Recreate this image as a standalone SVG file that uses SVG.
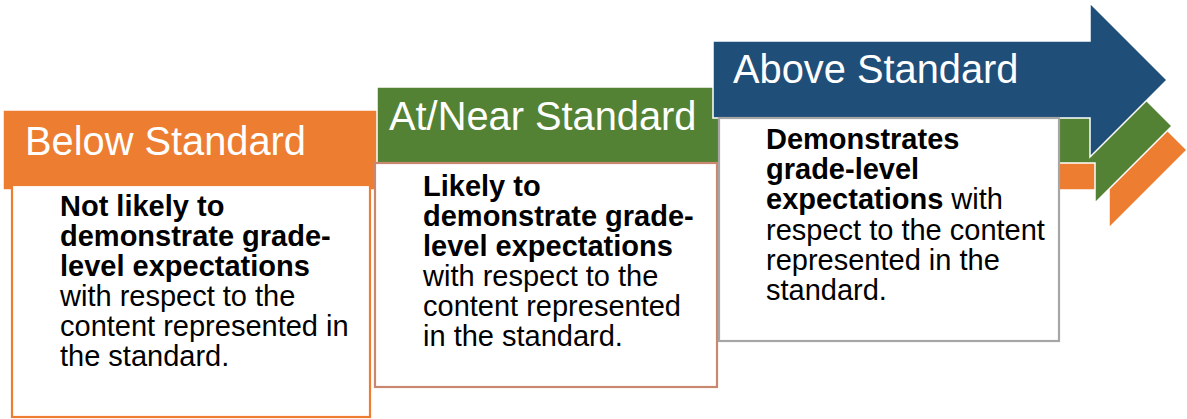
<svg xmlns="http://www.w3.org/2000/svg" width="1187" height="419" viewBox="0 0 1187 419">
<style>
.arrow{stroke:#FFFFFF;stroke-width:1.5;stroke-linejoin:miter}
.head{font-family:"Liberation Sans",Arial,sans-serif;font-size:39.8px;fill:#FFFFFF}
.body{font-family:"Liberation Sans",Arial,sans-serif;font-size:29px;fill:#000000}
.b{font-weight:bold}
.box{fill:#FFFFFF;stroke-width:2.2}
</style>
<rect width="1187" height="419" fill="#FFFFFF"/>
<g id="below">
<path class="arrow" fill="#ED7D31" d="M3,110 H1109 V72 L1187,150 L1109,228 V190 H3 Z"/>
<rect class="box" x="12" y="185" width="358" height="232" stroke="#ED7D31"/>
<text class="head" x="25" y="155">Below Standard</text>
<text class="body" x="60">
<tspan class="b" x="60" y="216">Not likely to</tspan>
<tspan class="b" x="60" y="246">demonstrate grade-</tspan>
<tspan class="b" x="60" y="276">level expectations</tspan>
<tspan x="60" y="306">with respect to the</tspan>
<tspan x="60" y="336">content represented in</tspan>
<tspan x="60" y="366">the standard.</tspan>
</text>
</g>
<g id="near">
<path class="arrow" fill="#548235" d="M377,87 H1095 V49 L1172,126 L1095,203 V163 H377 Z"/>
<rect class="box" x="375" y="163" width="342" height="224" stroke="#C8876F"/>
<text class="head" x="389" y="130">At/Near Standard</text>
<text class="body">
<tspan class="b" x="423" y="196">Likely to</tspan>
<tspan class="b" x="423" y="226">demonstrate grade-</tspan>
<tspan class="b" x="423" y="256">level expectations</tspan>
<tspan x="423" y="286">with respect to the</tspan>
<tspan x="423" y="316">content represented</tspan>
<tspan x="423" y="346">in the standard.</tspan>
</text>
</g>
<g id="above">
<path class="arrow" fill="#1F4E79" d="M713,41 H1090 V3 L1167,80 L1090,157 V118 H713 Z"/>
<rect class="box" x="719" y="118" width="340" height="223" stroke="#A6A6A6" stroke-width="2.5"/>
<text class="head" x="733" y="83">Above Standard</text>
<text class="body">
<tspan class="b" x="766" y="149">Demonstrates</tspan>
<tspan class="b" x="766" y="179">grade-level</tspan>
<tspan class="b" x="766" y="209">expectations</tspan><tspan> with</tspan>
<tspan x="766" y="240">respect to the content</tspan>
<tspan x="766" y="270">represented in the</tspan>
<tspan x="766" y="300">standard.</tspan>
</text>
</g>
<g id="connectors"/>
</svg>
